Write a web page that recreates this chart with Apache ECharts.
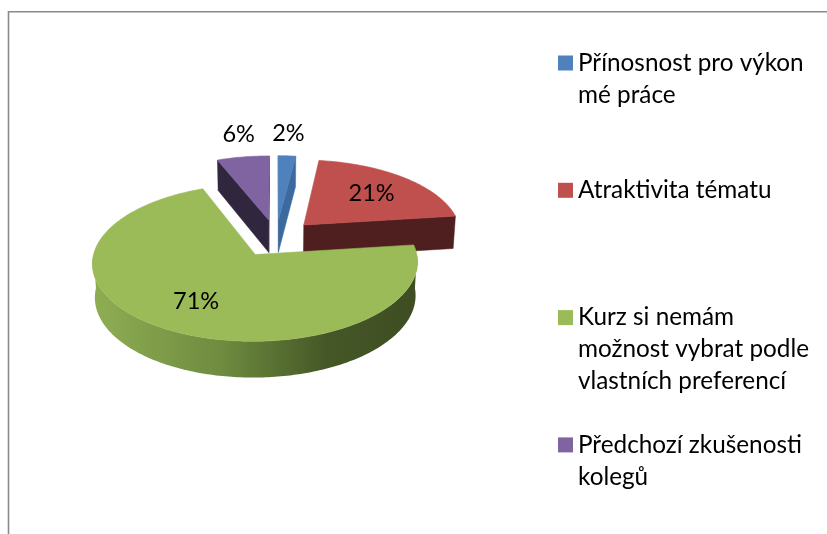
<!DOCTYPE html>
<html><head><meta charset="utf-8">
<script src="https://cdn.jsdelivr.net/npm/echarts@6/dist/echarts.min.js"></script>
<style>html,body{margin:0;padding:0;background:#fff}#c{width:827px;height:534px}</style>
</head><body><div id="c"></div>
<script>
// ---- data ----
const categories = ['Přínosnost pro výkon mé práce', 'Atraktivita tématu', 'Kurz si nemám možnost vybrat podle vlastních preferencí', 'Předchozí zkušenosti kolegů'];
const values = [2, 21, 71, 6];
const legendLabels = ['Přínosnost pro výkon\nmé práce', 'Atraktivita tématu', 'Kurz si nemám\nmožnost vybrat podle\nvlastních preferencí', 'Předchozí zkušenosti\nkolegů'];

// ---- style ----
const topColors = ['#4F81BD', '#C0504D', '#9BBB59', '#8064A2'];
const greenSide = {type: 'linear', x: 0, y: 0, x2: 1, y2: 0, colorStops: [
  {offset: 0, color: '#8FAE53'}, {offset: 0.4, color: '#6E8B3F'}, {offset: 0.72, color: '#455727'}, {offset: 1, color: '#3E4D22'}]};
const sideColors = ['#3D6A9E', '#4F1F1F', greenSide, '#30273F'];
const FONT = 'Lato';
const FS = 23.5, LFS = 24.3;
const CX = 276, CY = 238, R = 158, H = 38, EXPLODE = 40, DIST = 1355;
const ALPHA = 28 * Math.PI / 180, SA = Math.sin(ALPHA), CA = Math.cos(ALPHA);
const DEG = Math.PI / 180;
const LH = 32, LEG_TOP = 63, LEG_STEP = 127.3;

function proj(X, Y, Z) {
  const up = Y * CA + Z * SA, depth = Z * CA - Y * SA, f = DIST / (DIST + depth);
  return [CX + X * f, CY - up * f];
}
const total = values.reduce((a, b) => a + b, 0);
const starts = []; let acc = 0;
values.forEach(v => { starts.push(acc / total * 360); acc += v; });
// draw order: back slices first
const midZ = values.map((v, i) => Math.cos((starts[i] + v / total * 180) * DEG));
const order = midZ.map((z, i) => i).sort((a, b) => midZ[b] - midZ[a]);
const rankOf = []; order.forEach((idx, r) => rankOf[idx] = r);

function makeRender(i) {
  return function (params, api) {
    const v = api.value(0);
    const a0 = starts[i] * DEG, a1 = (starts[i] + v / total * 360) * DEG, am = (a0 + a1) / 2;
    const ox = Math.sin(am) * EXPLODE, oz = Math.cos(am) * EXPLODE;
    const P = (a, r, Y) => proj(ox + r * Math.sin(a), Y, oz + r * Math.cos(a));
    const base = rankOf[i] * 10;
    const children = [];
    const camZ = -DIST * CA;
    // radial faces
    [[a0, -1], [a1, 1]].forEach(([a, s]) => {
      const na = a + s * Math.PI / 2;
      const px = ox + 0.5 * R * Math.sin(a), pz = oz + 0.5 * R * Math.cos(a);
      const dot = Math.sin(na) * (0 - px) + Math.cos(na) * (camZ - pz);
      if (dot > 0) {
        children.push({type: 'polygon', z2: base + 1,
          shape: {points: [P(a, 0, 0), P(a, R, 0), P(a, R, -H), P(a, 0, -H)]},
          style: {fill: sideColors[i], stroke: sideColors[i], lineWidth: 0.5}});
      }
    });
    // outer curved side (front half)
    const s0 = Math.max(a0, 90 * DEG), s1 = Math.min(a1, 270 * DEG);
    if (s1 > s0) {
      const pts = [], n = Math.max(4, Math.ceil((s1 - s0) / DEG));
      for (let k = 0; k <= n; k++) pts.push(P(s0 + (s1 - s0) * k / n, R, 0));
      for (let k = n; k >= 0; k--) pts.push(P(s0 + (s1 - s0) * k / n, R, -H));
      children.push({type: 'polygon', z2: base + 2, shape: {points: pts},
        style: {fill: sideColors[i]}});
    }
    // top face
    const tp = [P(0, 0, 0)], m = Math.max(3, Math.ceil((a1 - a0) / DEG));
    for (let k = 0; k <= m; k++) tp.push(P(a0 + (a1 - a0) * k / m, R, 0));
    children.push({type: 'polygon', z2: base + 3, shape: {points: tp},
      style: {fill: topColors[i], stroke: topColors[i], lineWidth: 0.6}});
    // label
    const pct = v / total * 100;
    const inside = pct >= 10;
    const lp = inside ? P(am, 0.66 * R, 0) : P(am, R + 30, 0);
    children.push({type: 'text', z2: 100, x: lp[0], y: lp[1],
      style: {text: Math.round(pct) + '%', fontFamily: FONT, fontSize: FS, fill: '#000',
        align: 'center', verticalAlign: inside ? 'middle' : 'bottom'}});
    return {type: 'group', children: children};
  };
}

const chart = echarts.init(document.getElementById('c'), null, {renderer: 'canvas'});
chart.setOption({
  animation: false,
  graphic: [{type: 'polyline', shape: {points: [[8.5, 534], [8.5, 11.8], [827, 11.8]]},
    style: {stroke: '#8a8a8a', lineWidth: 1.6, fill: null}, silent: true}],
  legend: categories.map((name, i) => {
    const n = legendLabels[i].split('\n').length;
    return {
      data: [name], left: 558, top: LEG_TOP + LEG_STEP * i - (2 * n - 1) * LH / 2,
      padding: 0, orient: 'vertical', icon: 'rect', itemWidth: 15, itemHeight: 15,
      selectedMode: false,
      // leading blank lines keep the marker level with the first text line
      formatter: () => '\n'.repeat(n - 1) + legendLabels[i],
      textStyle: {fontFamily: FONT, fontSize: LFS, lineHeight: LH, color: '#000'}
    };
  }),
  series: categories.map((name, i) => ({
    type: 'custom', name: name, coordinateSystem: 'none',
    renderItem: makeRender(i), data: [[values[i]]],
    itemStyle: {color: topColors[i]}
  }))
});
</script></body></html>
